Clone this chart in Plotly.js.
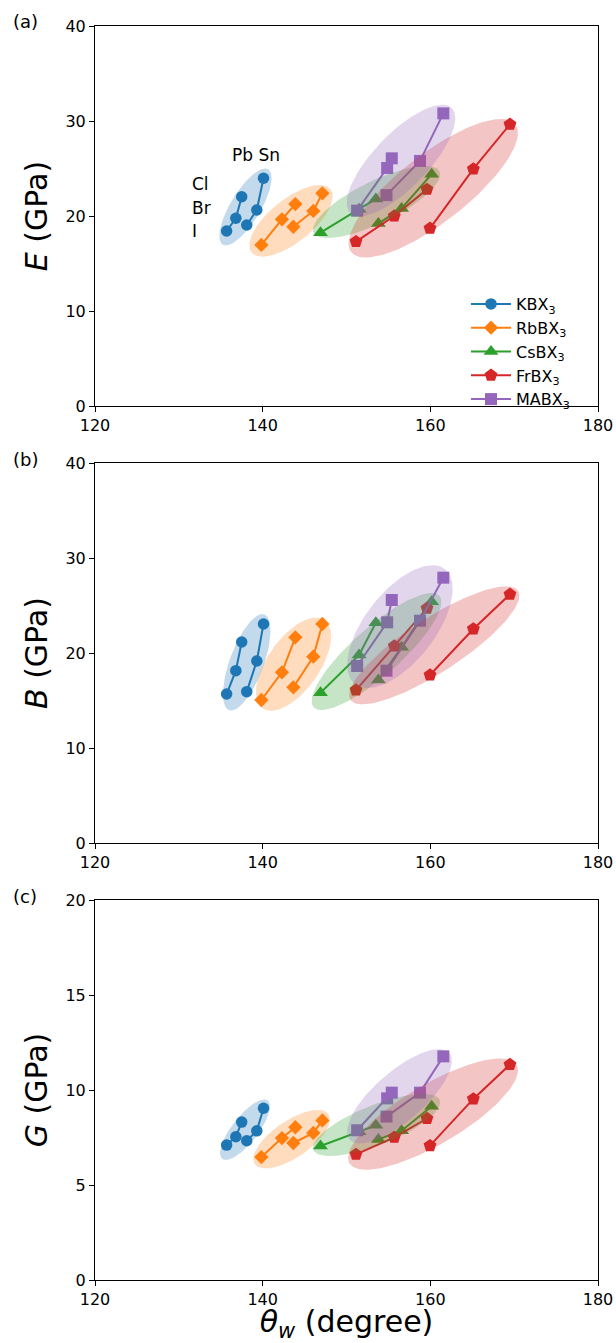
<!DOCTYPE html>
<html><head><meta charset="utf-8">
<script src="https://cdn.plot.ly/plotly-3.0.1.min.js"></script>
<style>body{margin:0;background:#fff}</style>
</head><body><div id="chart" style="width:616px;height:1343px"></div>
<script>
// order of each array: [Pb-I, Pb-Br, Pb-Cl, Sn-I, Sn-Br, Sn-Cl]
const seriesNames = ['KBX<sub>3</sub>','RbBX<sub>3</sub>','CsBX<sub>3</sub>','FrBX<sub>3</sub>','MABX<sub>3</sub>'];
const colors = ['#1f77b4','#ff7f0e','#2ca02c','#d62728','#9467bd'];
const symbols = ['circle','diamond','triangle-up','pentagon','square'];

const theta_K  = [135.7, 136.8, 137.5, 138.1, 139.3, 140.1];
const theta_Rb = [139.84, 142.3, 143.9, 143.66, 146.04, 147.12];
const theta_Cs = [146.9, 151.5, 153.5, 153.8, 156.57, 160.16];
const theta_Fr = [151.13, 155.7, 159.6, 159.96, 165.13, 169.5];
const theta_MA = [151.27, 154.85, 155.4, 154.77, 158.77, 161.55];

const E_K  = [18.42, 19.76, 22.03, 19.05, 20.63, 23.97];
const E_Rb = [16.95, 19.65, 21.26, 18.87, 20.53, 22.39];
const E_Cs = [18.24, 20.7, 21.8, 19.2, 20.8, 24.4];
const E_Fr = [17.3, 20.0, 22.8, 18.7, 24.95, 29.65];
const E_MA = [20.56, 25.05, 26.07, 22.2, 25.8, 30.8];

const B_K  = [15.68, 18.14, 21.16, 15.93, 19.16, 23.05];
const B_Rb = [15.05, 17.97, 21.65, 16.39, 19.61, 23.05];
const B_Cs = [15.82, 19.79, 23.19, 17.16, 20.6, 25.4];
const B_Fr = [16.1, 20.74, 24.7, 17.68, 22.53, 26.18];
const B_MA = [18.63, 23.23, 25.58, 18.14, 23.4, 27.93];

const G_K  = [7.1, 7.54, 8.31, 7.33, 7.85, 9.04];
const G_Rb = [6.47, 7.47, 8.04, 7.21, 7.74, 8.4];
const G_Cs = [7.05, 7.8, 8.14, 7.4, 7.86, 9.14];
const G_Fr = [6.61, 7.51, 8.5, 7.07, 9.53, 11.34];
const G_MA = [7.88, 9.56, 9.86, 8.6, 9.86, 11.77];

const xTicks = [120, 140, 160, 180];

const thetas = [theta_K, theta_Rb, theta_Cs, theta_Fr, theta_MA];
const Evals = [E_K, E_Rb, E_Cs, E_Fr, E_MA];
const Bvals = [B_K, B_Rb, B_Cs, B_Fr, B_MA];
const Gvals = [G_K, G_Rb, G_Cs, G_Fr, G_MA];

// shaded ellipses: centre in data units, semi-axes in screen px, tilt in degrees
const ellipseStyleA = [
 {cx:137.95, cy:20.95, a:44, b:15, ang:58.8},
 {cx:143.38, cy:19.49, a:50.6, b:21.5, ang:38.7},
 {cx:153.58, cy:21.47, a:70, b:21, ang:26},
 {cx:160.35, cy:22.92, a:104, b:34, ang:37.9},
 {cx:156.5, cy:25.84, a:73, b:27, ang:46}
];
const ellipseStyleB = [
 {cx:138.1, cy:19.02, a:51, b:17, ang:69.7},
 {cx:143.68, cy:18.82, a:54, b:26, ang:55},
 {cx:153.58, cy:20.16, a:84, b:24, ang:41.5},
 {cx:160.47, cy:20.81, a:100, b:27, ang:33},
 {cx:156.38, cy:22.77, a:73, b:35, ang:52}
];
const ellipseStyleC = [
 {cx:137.89, cy:7.91, a:37, b:13, ang:52},
 {cx:143.46, cy:7.41, a:44.5, b:18.5, ang:34},
 {cx:153.58, cy:8.16, a:68, b:20, ang:21.5},
 {cx:160.32, cy:8.73, a:97, b:30, ang:30.5},
 {cx:156.32, cy:9.67, a:66, b:24.7, ang:41}
];

const W = 616, H = 1343;
const M = {l:95, r:18, t:26, b:63};
const plotW = W - M.l - M.r, plotH = H - M.t - M.b;
const panelH = 380;
const xRange = [120, 180];
const pxPerX = plotW / (xRange[1]-xRange[0]);

function withGap(arr){ return [arr[0],arr[1],arr[2],null,arr[3],arr[4],arr[5]]; }
function rgba(hex, a){
  const r=parseInt(hex.slice(1,3),16), g=parseInt(hex.slice(3,5),16), b=parseInt(hex.slice(5,7),16);
  return `rgba(${r},${g},${b},${a})`;
}
const markerSizes = [11.5, 11, 13, 13.5, 12];

const traces = [];
const panels = [
  {vals:Evals, ell:ellipseStyleA, xa:'x', ya:'y', yr:[0,40]},
  {vals:Bvals, ell:ellipseStyleB, xa:'x2', ya:'y2', yr:[0,40]},
  {vals:Gvals, ell:ellipseStyleC, xa:'x3', ya:'y3', yr:[0,20]}
];
panels.forEach((p, pi) => {
  const pxPerY = panelH / (p.yr[1]-p.yr[0]);
  for (let s=0; s<5; s++){
    traces.push({
      x: withGap(thetas[s]), y: withGap(p.vals[s]), xaxis:p.xa, yaxis:p.ya,
      mode:'lines+markers', name: seriesNames[s], legendgroup: 's'+s, showlegend: pi===0,
      line:{color:colors[s], width:2}, connectgaps:false,
      marker:{symbol:symbols[s], size:markerSizes[s], color:colors[s], line:{width:0}},
      hoverinfo:'skip'
    });
  }
  for (let s=0; s<5; s++){
    const e = p.ell[s], th = e.ang*Math.PI/180;
    const xs=[], ys=[];
    for (let i=0;i<=144;i++){
      const t = 2*Math.PI*i/144;
      const dx = e.a*Math.cos(th)*Math.cos(t) - e.b*Math.sin(th)*Math.sin(t);
      const dy = e.a*Math.sin(th)*Math.cos(t) + e.b*Math.cos(th)*Math.sin(t);
      xs.push(e.cx + dx/pxPerX); ys.push(e.cy + dy/pxPerY);
    }
    traces.push({x:xs, y:ys, xaxis:p.xa, yaxis:p.ya, mode:'lines', fill:'toself',
      fillcolor: rgba(colors[s], 0.27), line:{width:0, color:'rgba(0,0,0,0)'},
      hoverinfo:'skip', showlegend:false});
  }
});

const FONT = 'DejaVu Sans, sans-serif';
function dom(topPx){ const top = (topPx - M.t); return [(plotH - top - panelH)/plotH, (plotH - top)/plotH]; }
const domA = dom(26), domB = dom(463), domC = dom(900);

function xax(anchor, title){
  const o = {anchor, domain:[0,1], range:xRange, tickvals:xTicks, ticks:'outside', ticklen:5, tickwidth:1,
    tickcolor:'#000', showline:true, linecolor:'#000', linewidth:1, mirror:true, showgrid:false, zeroline:false,
    tickfont:{size:16, color:'#000', family:FONT}};
  if (title) o.title = {text:title, font:{size:30, color:'#000', family:FONT}, standoff:9};
  return o;
}
function yax(anchor, d, r, dt, title){
  return {anchor, domain:d, range:r, dtick:dt, ticks:'outside', ticklen:5, tickwidth:1, tickcolor:'#000',
    showline:true, linecolor:'#000', linewidth:1, mirror:true, showgrid:false, zeroline:false,
    tickfont:{size:16, color:'#000', family:FONT},
    title:{text:title, font:{size:30, color:'#000', family:FONT}, standoff:8}};
}

const layout = {
  width:W, height:H, margin:M, paper_bgcolor:'#fff', plot_bgcolor:'#fff',
  font:{family:FONT, color:'#000'}, showlegend:true,
  xaxis: xax('y'), yaxis: yax('x', domA, [0,40], 10, '<i>E</i> (GPa)'),
  xaxis2: xax('y2'), yaxis2: yax('x2', domB, [0,40], 10, '<i>B</i> (GPa)'),
  xaxis3: xax('y3', '<i>θ</i><sub><i>w</i></sub> (degree)'), yaxis3: yax('x3', domC, [0,20], 5, '<i>G</i> (GPa)'),
  legend:{x:(466-M.l)/plotW, y:(plotH-(287-M.t))/plotH, xanchor:'left', yanchor:'top', bgcolor:'rgba(0,0,0,0)',
    font:{size:16, family:FONT, color:'#000'}, itemwidth:40, tracegroupgap:0},
  annotations:[
    {text:'(a)', xref:'paper', yref:'paper', x:(11-M.l)/plotW, y:(plotH-(22-M.t))/plotH, xanchor:'left', yanchor:'middle', showarrow:false, font:{size:18}},
    {text:'(b)', xref:'paper', yref:'paper', x:(11-M.l)/plotW, y:(plotH-(459-M.t))/plotH, xanchor:'left', yanchor:'middle', showarrow:false, font:{size:18}},
    {text:'(c)', xref:'paper', yref:'paper', x:(11-M.l)/plotW, y:(plotH-(896-M.t))/plotH, xanchor:'left', yanchor:'middle', showarrow:false, font:{size:18}},
    {text:'Pb Sn', xref:'x', yref:'y', x:136.1, y:26.47, xanchor:'left', yanchor:'middle', showarrow:false, font:{size:17}},
    {text:'Cl', xref:'x', yref:'y', x:131.35, y:23.37, xanchor:'left', yanchor:'middle', showarrow:false, font:{size:17}},
    {text:'Br', xref:'x', yref:'y', x:131.35, y:20.84, xanchor:'left', yanchor:'middle', showarrow:false, font:{size:17}},
    {text:'I', xref:'x', yref:'y', x:131.35, y:18.42, xanchor:'left', yanchor:'middle', showarrow:false, font:{size:17}}
  ]
};

Plotly.newPlot('chart', traces, layout, {displayModeBar:false, staticPlot:true});
</script></body></html>
